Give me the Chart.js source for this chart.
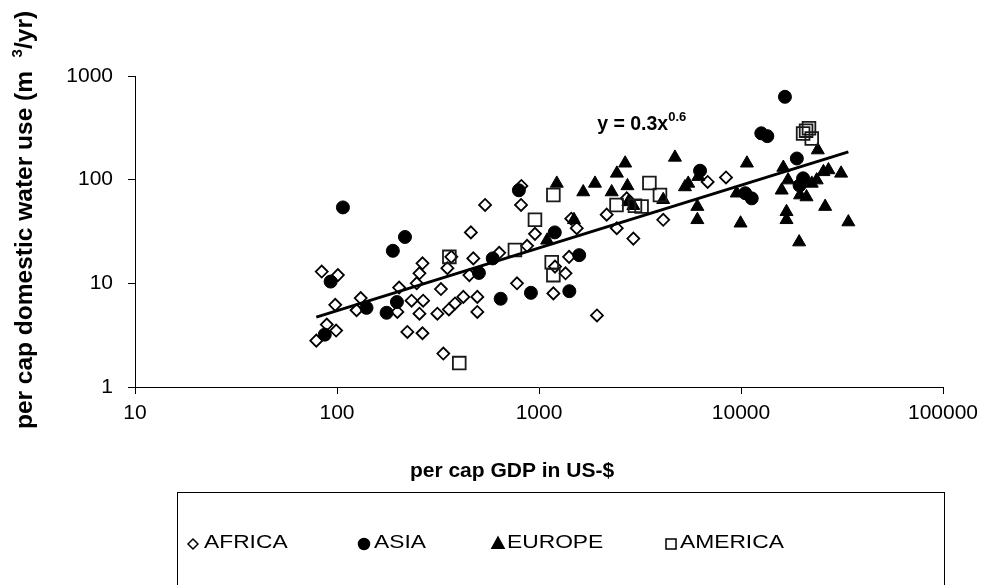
<!DOCTYPE html>
<html>
<head>
<meta charset="utf-8">
<script src="https://cdn.jsdelivr.net/npm/chart.js@4.4.1/dist/chart.umd.min.js"></script>
<style>
  html, body { margin: 0; padding: 0; background: #ffffff; }
  #wrap { width: 990px; height: 585px; position: relative; }
</style>
</head>
<body>
<div id="wrap"><canvas id="chart" width="990" height="585"></canvas></div>
<script>
// Per-capita GDP (US$) against per-capita domestic water use (m3/yr), by region
const africaGdp   = [79, 89, 99, 84, 101, 98, 131, 125, 203, 199, 223, 265, 248, 256, 265, 234, 267, 256, 314, 327,
                     352, 368, 358, 384, 422, 336, 460, 473, 452, 495, 495, 541, 635, 778, 815, 818, 955, 873, 1178, 1200,
                     1353, 1409, 1936, 1538, 1445, 2163, 2427, 2718, 2931, 4120, 6840, 8430];
const africaWater = [2.8, 4.0, 3.5, 13, 12, 6.2, 7.2, 5.5, 9.1, 5.3, 3.4, 3.3, 10, 12.5, 15.6, 6.8, 6.8, 5.1, 5.1, 8.8,
                     14, 18, 5.6, 6.4, 7.4, 2.1, 31, 17.4, 12, 7.4, 5.3, 57, 19.7, 10, 57, 87, 30, 23, 8.0, 14.5,
                     12.5, 18, 4.9, 34, 42, 46, 34, 66, 27, 41, 95, 105];

const asiaGdp   = [107, 93, 87, 140, 189, 217, 176, 198, 590, 504, 646, 912, 1413, 1197, 1581, 795, 6270, 10500, 11300,
                   16500, 12600, 13500, 18900, 20300, 19500];
const asiaWater = [54, 10.4, 3.2, 5.8, 20.6, 28, 5.2, 6.6, 17.4, 12.6, 7.1, 8.1, 8.4, 31, 18.7, 79, 122, 74, 66,
                   630, 280, 263, 160, 103, 88];

const europeGdp   = [1225, 1656, 1893, 2290, 2430, 2670, 2740, 1490, 2770, 2930, 4120, 4710, 5280, 5480, 6150, 6080, 6080,
                     9950, 10700, 16200, 17100, 15900, 19600, 21100, 22400, 23700, 25600, 27100, 31300, 24000, 16800, 16800,
                     26100, 34000, 19400, 1097, 9530];
const europeWater = [92, 76, 92, 76, 115, 144, 87, 41, 61, 56, 64, 164, 85, 92, 107, 55, 41,
                     38, 144, 131, 99, 79, 71, 68, 92, 99, 119, 124, 115, 193, 49, 41,
                     55, 39, 25, 26, 74];

const americaGdp   = [360, 403, 760, 955, 1178, 1156, 1178, 2420, 2985, 3220, 3520, 3970, 20300, 21700, 22400, 21000];
const americaWater = [18, 1.7, 21, 41, 71, 16, 12, 57, 56, 55, 93, 71, 279, 313, 250, 297];

const seriesNames = ['AFRICA', 'ASIA', 'EUROPE', 'AMERICA'];
const xTickValues = [10, 100, 1000, 10000, 100000];
const yTickValues = [1, 10, 100, 1000];

// Power-law fit y = a * x^b over the GDP range of the data
const trendA = 0.336;
const trendB = 0.605;
const trendRange = [79, 34000];

const FONT = '"Liberation Sans", Arial, Helvetica, sans-serif';
const pairs = (xs, ys) => xs.map((x, i) => ({ x: x, y: ys[i] }));
const trendPoints = trendRange.map(x => ({ x: x, y: trendA * Math.pow(x, trendB) }));

const markerStyles = [
  { pointStyle: 'rectRot',  radius: 6,   fill: 'rgba(0,0,0,0)', stroke: '#000000', width: 1.8 },
  { pointStyle: 'circle',   radius: 6.5, fill: '#000000',       stroke: '#000000', width: 1 },
  { pointStyle: 'triangle', radius: 7.5, fill: '#000000',       stroke: '#000000', width: 1 },
  { pointStyle: 'rect',     radius: 9,   fill: 'rgba(0,0,0,0)', stroke: '#1a1a1a', width: 1.8 }
];
const seriesData = [
  pairs(africaGdp, africaWater),
  pairs(asiaGdp, asiaWater),
  pairs(europeGdp, europeWater),
  pairs(americaGdp, americaWater)
];

// Draw text pieces with optional superscripts along one baseline
function drawRich(ctx, pieces, x, y, font, supFont, supShift, align) {
  let total = 0;
  pieces.forEach(p => { ctx.font = p.sup ? supFont : font; total += ctx.measureText(p.t).width; });
  let cx = align === 'center' ? x - total / 2 : x;
  ctx.textAlign = 'left';
  ctx.textBaseline = 'alphabetic';
  pieces.forEach(p => {
    ctx.font = p.sup ? supFont : font;
    ctx.fillText(p.t, cx, p.sup ? y - supShift : y);
    cx += ctx.measureText(p.t).width;
  });
}

function drawMarker(ctx, style, x, y, r) {
  ctx.beginPath();
  if (style === 'rectRot') {
    ctx.moveTo(x, y - r); ctx.lineTo(x + r, y); ctx.lineTo(x, y + r); ctx.lineTo(x - r, y); ctx.closePath();
  } else if (style === 'circle') {
    ctx.arc(x, y, r, 0, Math.PI * 2);
  } else if (style === 'triangle') {
    ctx.moveTo(x, y - r); ctx.lineTo(x + r * 0.87, y + r * 0.6); ctx.lineTo(x - r * 0.87, y + r * 0.6); ctx.closePath();
  } else {
    ctx.rect(x - r, y - r, 2 * r, 2 * r);
  }
}

const legendItems = [
  { marker: 'rectRot',  mx: 193, r: 5,   filled: false, tx: 204 },
  { marker: 'circle',   mx: 364, r: 5.5, filled: true,  tx: 374 },
  { marker: 'triangle', mx: 498, r: 7,   filled: true,  tx: 507 },
  { marker: 'rect',     mx: 671, r: 5,   filled: false, tx: 680 }
];

const decorations = {
  id: 'decorations',
  afterDraw(chart) {
    const ctx = chart.ctx;
    const xs = chart.scales.x, ys = chart.scales.y;
    ctx.save();
    ctx.fillStyle = '#000000';

    // vertical axis title
    ctx.save();
    ctx.translate(24, 220);
    ctx.rotate(-Math.PI / 2);
    drawRich(ctx, [{ t: 'per cap domestic water use (m  ' }, { t: '3', sup: true }, { t: '/yr)' }],
             0, 8, 'bold 24.5px ' + FONT, 'bold 15px ' + FONT, 10, 'center');
    ctx.restore();

    // horizontal axis title
    drawRich(ctx, [{ t: 'per cap GDP in US-$' }], 512, 477, 'bold 21px ' + FONT, 'bold 14px ' + FONT, 0, 'center');

    // regression equation
    const ex = xs.getPixelForValue(1940), ey = ys.getPixelForValue(300);
    drawRich(ctx, [{ t: 'y = ' + trendA.toFixed(1) + 'x' }, { t: trendB.toFixed(1), sup: true }],
             ex, ey, 'bold 19.5px ' + FONT, 'bold 13px ' + FONT, 9, 'left');

    // legend box
    ctx.strokeStyle = '#000000';
    ctx.lineWidth = 1;
    ctx.strokeRect(177.5, 492.5, 767, 110);
    const ly = 541;
    legendItems.forEach((it, i) => {
      drawMarker(ctx, it.marker, it.mx, ly + 3, it.r);
      if (it.filled) { ctx.fillStyle = '#000000'; ctx.fill(); }
      ctx.lineWidth = 1.5; ctx.strokeStyle = '#000000'; ctx.stroke();
      ctx.save();
      ctx.translate(it.tx, ly + 7);
      ctx.scale(1.2, 1);
      ctx.font = '19px ' + FONT;
      ctx.fillStyle = '#000000';
      ctx.textAlign = 'left';
      ctx.textBaseline = 'alphabetic';
      ctx.fillText(seriesNames[i], 0, 0);
      ctx.restore();
    });
    ctx.restore();
  }
};

const datasets = [{
  type: 'line',
  label: 'trend',
  data: trendPoints,
  borderColor: '#000000',
  borderWidth: 3,
  pointRadius: 0,
  fill: false,
  order: 0
}];
// later regions are drawn over earlier ones
seriesData.forEach((d, i) => {
  const m = markerStyles[i];
  datasets.push({
    type: 'scatter',
    label: seriesNames[i],
    data: d,
    pointStyle: m.pointStyle,
    pointRadius: m.radius,
    pointBackgroundColor: m.fill,
    pointBorderColor: m.stroke,
    pointBorderWidth: m.width,
    showLine: false,
    order: 4 - i
  });
});

const tickFont = { family: FONT, size: 21 };

new Chart(document.getElementById('chart'), {
  type: 'scatter',
  data: { datasets: datasets },
  options: {
    responsive: false,
    animation: false,
    devicePixelRatio: 1,
    layout: { padding: { top: 76, right: 47, bottom: 0, left: 0 } },
    plugins: { legend: { display: false }, tooltip: { enabled: false } },
    events: [],
    scales: {
      x: {
        type: 'logarithmic',
        position: 'bottom',
        min: 10, max: 100000,
        afterBuildTicks: s => { s.ticks = xTickValues.map(v => ({ value: v })); },
        afterFit: s => { s.height = 198; },
        grid: { drawOnChartArea: false, drawTicks: true, tickLength: 7, color: '#000000', lineWidth: 1 },
        border: { display: true, color: '#000000', width: 1 },
        ticks: { callback: v => String(v), font: tickFont, color: '#000000', padding: 7, maxRotation: 0, autoSkip: false }
      },
      y: {
        type: 'logarithmic',
        position: 'left',
        min: 1, max: 1000,
        afterBuildTicks: s => { s.ticks = yTickValues.map(v => ({ value: v })); },
        afterFit: s => { s.width = 135; },
        grid: { drawOnChartArea: false, drawTicks: true, tickLength: 7, color: '#000000', lineWidth: 1 },
        border: { display: true, color: '#000000', width: 1 },
        ticks: { callback: v => String(v), font: tickFont, color: '#000000', padding: 15, autoSkip: false }
      }
    }
  },
  plugins: [decorations]
});
</script>
</body>
</html>
